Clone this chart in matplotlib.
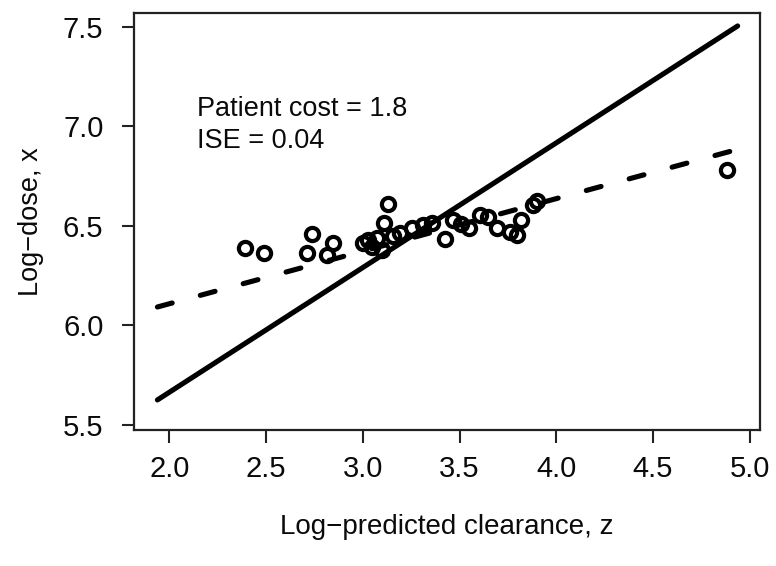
import matplotlib as mpl; mpl.use('Agg')
import matplotlib.pyplot as plt
import numpy as np

plt.rcParams['font.family'] = ['Liberation Sans', 'DejaVu Sans']
plt.rcParams['lines.scale_dashes'] = False

# observed patients: log-predicted clearance (z) and log-dose (x)
z_obs = [2.39, 2.49, 2.735, 2.71, 2.845, 2.815, 3.00, 3.025, 3.045, 3.075,
         3.10, 3.11, 3.13, 3.155, 3.19, 3.255, 3.31, 3.36, 3.425, 3.465,
         3.51, 3.55, 3.605, 3.645, 3.695, 3.76, 3.795, 3.82, 3.88, 3.90, 4.885]
x_obs = [6.39, 6.365, 6.46, 6.365, 6.415, 6.355, 6.415, 6.43, 6.395, 6.44,
         6.38, 6.515, 6.61, 6.45, 6.465, 6.49, 6.505, 6.515, 6.435, 6.53,
         6.51, 6.49, 6.555, 6.545, 6.49, 6.47, 6.455, 6.53, 6.605, 6.625, 6.78]

# solid line (reference dosing rule) and dashed line (fitted rule), end points
z_line = [1.938, 4.938]
x_solid = [5.626, 7.505]
x_dashed = [6.093, 6.885]

cost_text = "Patient cost = 1.8\nISE = 0.04"

fig = plt.figure(figsize=(7.76, 5.66), dpi=100)
ax = fig.add_axes([0.1727, 0.2403, 0.979 - 0.1727, 0.977 - 0.2403])

ax.plot(z_line, x_solid, color='black', lw=3.7, solid_capstyle='round')
ax.plot(z_line, x_dashed, color='black', lw=3.7, dashes=(11, 21),
        dash_capstyle='round')
ax.plot(z_obs, x_obs, 'o', ms=9.5, mfc='none', mec='black', mew=3.0)

ax.text(2.145, 7.155, cost_text, fontsize=19.5, va='top', ha='left',
        linespacing=1.3, color='#0a0a0a')

ax.set_xlim(1.817, 5.052)
ax.set_ylim(5.475, 7.570)
ax.set_xticks([2.0, 2.5, 3.0, 3.5, 4.0, 4.5, 5.0])
ax.set_yticks([5.5, 6.0, 6.5, 7.0, 7.5])
ax.set_xticklabels(['2.0', '2.5', '3.0', '3.5', '4.0', '4.5', '5.0'])
ax.set_yticklabels(['5.5', '6.0', '6.5', '7.0', '7.5'])
ax.tick_params(labelsize=21, length=9, width=1.5, color='#222222',
               labelcolor='#0a0a0a')
ax.tick_params(axis='x', pad=9)
ax.tick_params(axis='y', pad=13)
for s in ax.spines.values():
    s.set_linewidth(1.6)
    s.set_color('#222222')

ax.set_xlabel("Log\u2212predicted clearance, z", fontsize=20, labelpad=22,
              color='#0a0a0a')
ax.set_ylabel("Log\u2212dose, x", fontsize=19.5, labelpad=14, color='#0a0a0a')

plt.savefig("out.png", dpi=100)
